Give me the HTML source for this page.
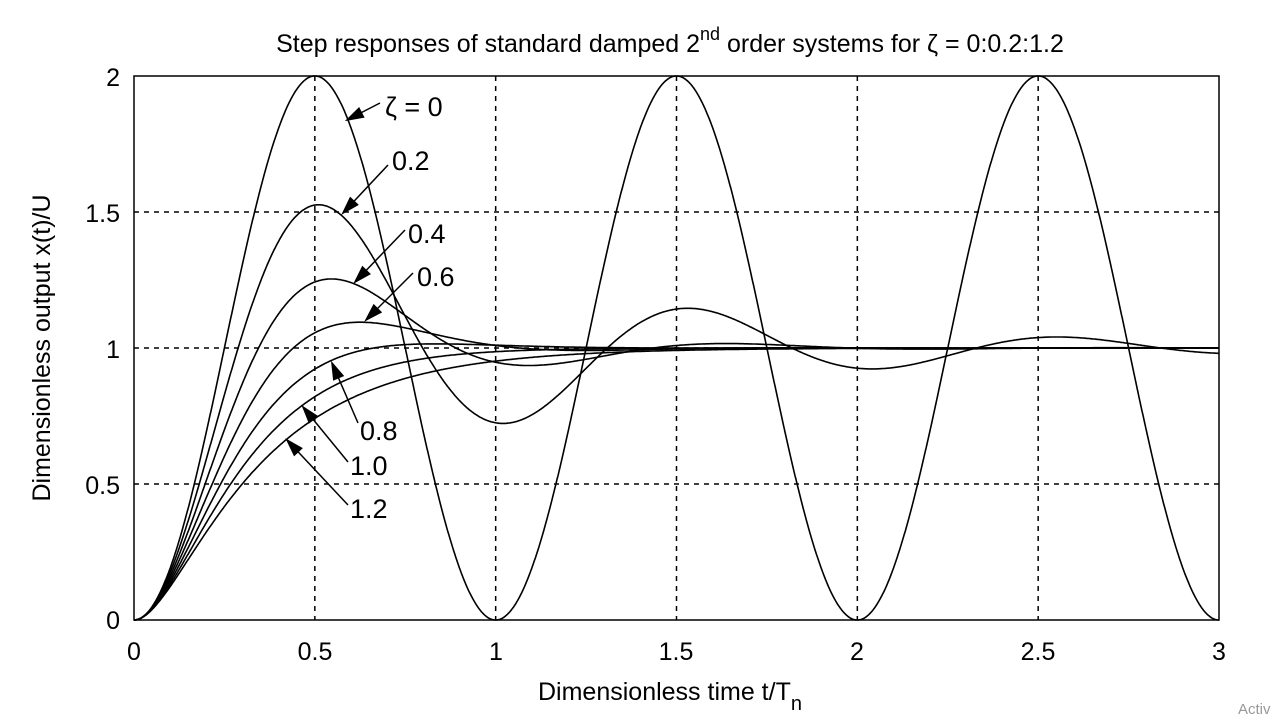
<!DOCTYPE html>
<html><head><meta charset="utf-8"><style>
html,body{margin:0;padding:0;background:#fff;}
svg{display:block;font-family:"Liberation Sans",sans-serif;}
</style></head><body>
<svg id="s" width="1281" height="725" viewBox="0 0 1281 725" xmlns="http://www.w3.org/2000/svg">
<rect width="1281" height="725" fill="#fff"/>
<g id="grid" stroke="#000" stroke-width="1.5" stroke-dasharray="5,5" fill="none"></g>
<rect x="134" y="76" width="1085" height="544" fill="none" stroke="#000" stroke-width="1.5"/>
<g id="curves" fill="none" stroke="#000" stroke-width="1.6"></g>
<g font-size="25" fill="#000">
<text x="670" y="52" text-anchor="middle" font-size="25">Step responses of standard damped 2<tspan font-size="18" dy="-12">nd</tspan><tspan dy="12"> order systems for ζ = 0:0.2:1.2</tspan></text>
<g text-anchor="end">
<text x="120" y="629">0</text><text x="120" y="494">0.5</text><text x="120" y="358">1</text><text x="120" y="222">1.5</text><text x="120" y="86">2</text>
</g>
<g text-anchor="middle">
<text x="134" y="660">0</text><text x="315" y="660">0.5</text><text x="496" y="660">1</text><text x="676" y="660">1.5</text><text x="857" y="660">2</text><text x="1038" y="660">2.5</text><text x="1219" y="660">3</text>
<text x="670" y="700">Dimensionless time t/T<tspan font-size="20" dy="10">n</tspan></text>
</g>
<text transform="translate(50,348) rotate(-90)" text-anchor="middle">Dimensionless output x(t)/U</text>
<text x="385" y="116" font-size="27">ζ = 0</text>
<text x="392" y="170" font-size="27">0.2</text>
<text x="408" y="243" font-size="27">0.4</text>
<text x="417" y="286" font-size="27">0.6</text>
<text x="360" y="440" font-size="27">0.8</text>
<text x="350" y="475" font-size="27">1.0</text>
<text x="350" y="518" font-size="27">1.2</text>
<text x="1238" y="714" font-size="15" fill="#999">Activ</text>
</g>
<g id="arrows" stroke="#000" stroke-width="1.5"></g>
</svg>
<script>
var NS="http://www.w3.org/2000/svg";
function X(t){return 134+t*1085/3;} function Y(v){return 620-v*272;}
var g=document.getElementById('grid');
function ln(p,x1,y1,x2,y2){var l=document.createElementNS(NS,'line');l.setAttribute('x1',x1);l.setAttribute('y1',y1);l.setAttribute('x2',x2);l.setAttribute('y2',y2);p.appendChild(l);return l;}
for(var i=1;i<6;i++){ln(g,X(i*0.5),76,X(i*0.5),620);}
for(var j=1;j<4;j++){ln(g,134,Y(j*0.5),1219,Y(j*0.5));}
var c=document.getElementById('curves');
var w=2*Math.PI;
[0,0.2,0.4,0.6,0.8,1.0,1.2].forEach(function(z){
 var d="";
 for(var k=0;k<=1200;k++){var t=k*3/1200,v;
  if(z<1){var wd=w*Math.sqrt(1-z*z);v=1-Math.exp(-z*w*t)*(Math.cos(wd*t)+z/Math.sqrt(1-z*z)*Math.sin(wd*t));}
  else if(z==1){v=1-Math.exp(-w*t)*(1+w*t);}
  else{var s=Math.sqrt(z*z-1),s1=-w*(z-s),s2=-w*(z+s);v=1+(s2*Math.exp(s1*t)-s1*Math.exp(s2*t))/(s1-s2);}
  d+=(k?"L":"M")+X(t).toFixed(1)+","+Y(v).toFixed(1);}
 var p=document.createElementNS(NS,'path');p.setAttribute('d',d);c.appendChild(p);});
var a=document.getElementById('arrows');
[[380,103,347,120],[388,165,343,213],[405,230,355,282],[413,273,366,320],[358,423,332,363],[348,462,303,407],[348,505,287,440]].forEach(function(q){
 ln(a,q[0],q[1],q[2],q[3]);
 var dx=q[2]-q[0],dy=q[3]-q[1],L=Math.hypot(dx,dy);dx/=L;dy/=L;
 var bx=q[2]-dx*16,by=q[3]-dy*16,px=-dy*5,py=dx*5;
 var t=document.createElementNS(NS,'polygon');t.setAttribute('points',q[2]+","+q[3]+" "+(bx+px)+","+(by+py)+" "+(bx-px)+","+(by-py));a.appendChild(t);});
</script>
</body></html>
